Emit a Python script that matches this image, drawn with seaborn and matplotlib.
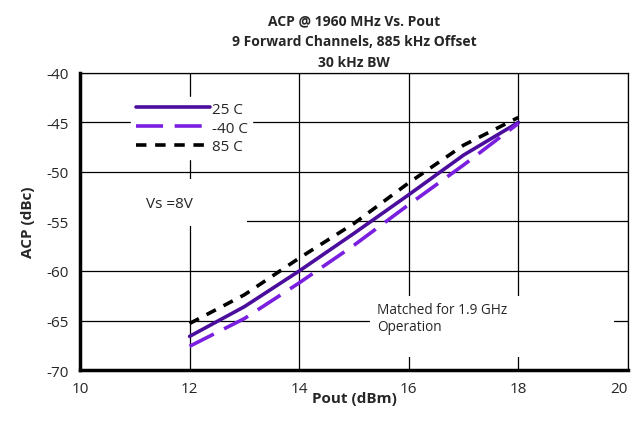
import pandas as pd
import numpy as np
import matplotlib.pyplot as plt
import seaborn as sns
from matplotlib.patches import Rectangle

# data
pout = [12, 13, 14, 15, 16, 17, 18]
acp_25c = [-66.6, -63.6, -60.0, -56.2, -52.3, -48.3, -45.0]
acp_m40c = [-67.6, -64.8, -61.2, -57.4, -53.3, -49.3, -45.1]
acp_85c = [-65.3, -62.4, -58.7, -55.2, -51.1, -47.3, -44.5]
labels = ['25 C', '-40 C', '85 C']

df = pd.DataFrame({
    'pout': pout * 3,
    'acp': acp_25c + acp_m40c + acp_85c,
    'temp': [labels[0]] * 7 + [labels[1]] * 7 + [labels[2]] * 7,
})

sns.set_style('white')
plt.rcParams['font.family'] = ['Open Sans', 'DejaVu Sans']
plt.rcParams['axes.unicode_minus'] = False

fig = plt.figure(figsize=(6.32, 4.27), dpi=100)
ax = fig.add_axes([0.1266, 0.131, 0.867, 0.696])

palette = {'25 C': '#4b0e9c', '-40 C': '#7a1fe0', '85 C': '#000000'}
dashes = {'25 C': '', '-40 C': (7.5, 3.2), '85 C': (2.9, 2.4)}
sns.lineplot(data=df, x='pout', y='acp', hue='temp', style='temp',
             palette=palette, dashes=dashes, linewidth=2.6, ax=ax, zorder=3)
for ln in ax.lines:
    ln.set_linewidth(2.6)

ax.set_xlim(10, 20)
ax.set_ylim(-70, -40)
ax.set_xticks(np.arange(10, 21, 2))
ax.set_yticks(np.arange(-70, -39, 5))
ax.grid(True, color='black', linewidth=0.9)
ax.set_axisbelow(True)
for s in ['left', 'bottom']:
    ax.spines[s].set_linewidth(2.5)
    ax.spines[s].set_color('black')
for s in ['top', 'right']:
    ax.spines[s].set_linewidth(0.9)
    ax.spines[s].set_color('black')
ax.tick_params(axis='both', direction='out', length=4, width=2.5, labelsize=11, pad=4)
ax.tick_params(top=False, right=False)
ax.get_xticklabels()[-1].set_ha('right')

ax.set_xlabel('Pout (dBm)', fontsize=11, fontweight='bold', labelpad=-4)
ax.set_ylabel('ACP (dBc)', fontsize=11, fontweight='bold', labelpad=8)
ax.set_title('ACP @ 1960 MHz Vs. Pout\n9 Forward Channels, 885 kHz Offset\n30 kHz BW',
             fontsize=10, fontweight='bold', linespacing=1.6, pad=5)

leg = ax.legend(loc='upper left', bbox_to_anchor=(0.093, 0.918), frameon=True,
                fontsize=11, handlelength=4.9, handletextpad=0.1,
                labelspacing=0.25, borderpad=0.3, borderaxespad=0)
leg.get_frame().set_facecolor('white')
leg.get_frame().set_edgecolor('white')
leg.get_frame().set_alpha(1)
for ln in leg.get_lines():
    ln.set_linewidth(2.6)

# white boxes behind the notes (cover grid lines)
ax.add_patch(Rectangle((10.02, -55.5), 3.03, 4.8, facecolor='white',
                       edgecolor='none', zorder=1))
ax.add_patch(Rectangle((15.3, -68.7), 4.45, 6.2, facecolor='white',
                       edgecolor='none', zorder=1))
ax.text(11.2, -53.2, 'Vs =8V', fontsize=11, va='center', ha='left', zorder=2)
ax.text(15.42, -64.75, 'Matched for 1.9 GHz\nOperation', fontsize=9.8,
        va='center', ha='left', linespacing=1.15, zorder=2)

fig.savefig('out.png', dpi=100)
